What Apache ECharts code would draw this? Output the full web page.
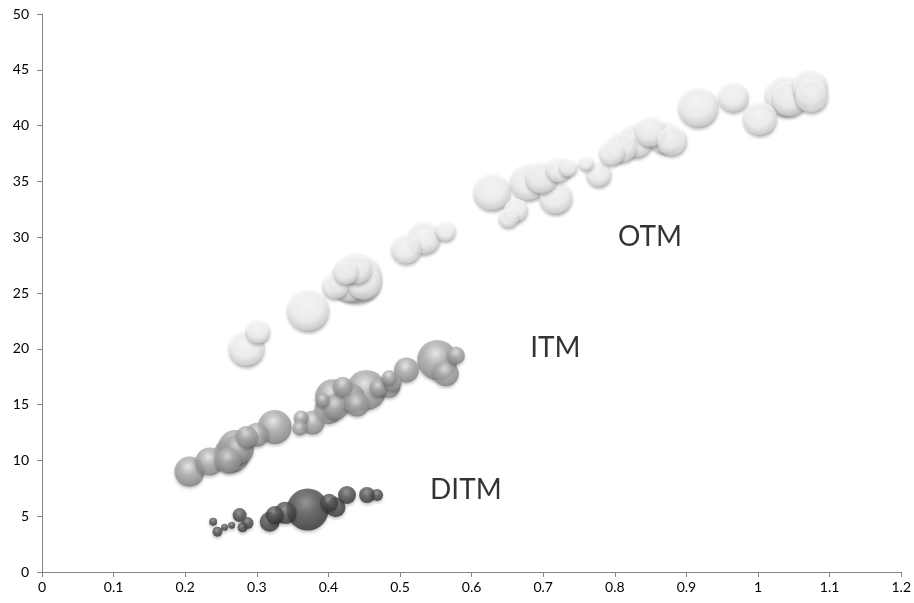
<!DOCTYPE html>
<html><head><meta charset="utf-8">
<script src="https://cdn.jsdelivr.net/npm/echarts@6/dist/echarts.min.js"></script>
<style>html,body{margin:0;padding:0;background:#fff}#c{width:914px;height:603px}</style>
</head><body><div id="c"></div>
<script>
// ---- data ----
const xTicks = [0,0.1,0.2,0.3,0.4,0.5,0.6,0.7,0.8,0.9,1,1.1,1.2];
const yTicks = [0,5,10,15,20,25,30,35,40,45,50];

const otmX = [0.286,0.302,0.372,0.44,0.43,0.425,0.41,0.45,0.44,0.509,0.534,0.564,0.629,0.652,0.662,0.68,0.718,0.698,0.722,0.735,0.76,0.778,0.796,0.81,0.83,0.85,0.87,0.88,0.917,0.966,1.003,1.038,1.045,1.073,1.075];
const otmY = [20.0,21.5,23.4,26.3,26.0,26.8,25.6,25.9,27.1,28.9,29.9,30.5,34.0,31.7,32.4,34.9,33.5,35.3,36.0,36.2,36.6,35.6,37.5,38.0,38.6,39.4,38.9,38.6,41.6,42.5,40.6,42.6,42.4,43.4,42.6];
const otmV = [36,24,42,50,40,24,26,34,30,30,33,20,37,20,24,37,33,32,25,18,15,25,25,30,34,30,32,30,40,30,34,40,36,35,33];

const itmX = [0.206,0.234,0.265,0.27,0.275,0.26,0.286,0.30,0.325,0.362,0.36,0.378,0.392,0.40,0.406,0.41,0.42,0.43,0.44,0.453,0.47,0.485,0.485,0.49,0.509,0.552,0.564,0.578];
const itmY = [9.0,9.9,10.5,11.2,11.0,10.0,12.1,12.3,13.0,13.8,12.9,13.4,15.4,14.5,15.7,14.8,16.6,15.6,15.0,16.3,16.5,17.4,16.6,17.0,18.1,19.0,17.8,19.4];
const itmV = [30,28,36,34,30,26,22,24,34,15,15,24,14,28,35,26,20,30,24,40,18,15,22,18,25,40,26,18];

const ditmX = [0.239,0.245,0.255,0.265,0.276,0.287,0.28,0.318,0.325,0.34,0.371,0.401,0.41,0.426,0.454,0.468];
const ditmY = [4.5,3.6,4.0,4.2,5.1,4.4,4.0,4.5,5.1,5.3,5.6,6.2,5.8,6.9,6.9,6.9];
const ditmV = [8,10,7,7,14,12,10,20,18,22,42,18,20,18,16,12];

const groupNames = ['OTM','ITM','DITM'];
const labelX = [0.849,0.717,0.592];
const labelY = [30.0,20.1,7.35];

// ---- chart ----
function pts(xs, ys, vs){
  const a = xs.map((x,i)=>[x, ys[i], vs[i]]);
  a.sort((p,q)=>q[2]-p[2]);
  return a;
}
function grad(stops){
  return {type:'radial', x:0.45, y:0.33, r:0.72,
    colorStops: stops.map(s=>({offset:s[0], color:s[1]}))};
}
function bubble(name, data, stops){
  return {name, type:'scatter', data, symbolSize: d => d[2],
    itemStyle:{color:grad(stops), shadowBlur:3, shadowColor:'rgba(0,0,0,0.3)', shadowOffsetY:2}};
}
const chart = echarts.init(document.getElementById('c'));
const font = 'Lato, "Open Sans", sans-serif';
chart.setOption({
  animation:false,
  backgroundColor:'#fff',
  grid:{left:42, right:11, top:14, bottom:31},
  xAxis:{type:'value', min:xTicks[0], max:xTicks[xTicks.length-1], interval:0.1,
    axisLine:{lineStyle:{color:'#868686'}}, axisTick:{show:true, length:5, lineStyle:{color:'#868686'}},
    splitLine:{show:false}, axisLabel:{color:'#000', fontSize:14, fontFamily:font, margin:8,
      formatter: v => String(Math.round(v*10)/10)}},
  yAxis:{type:'value', min:yTicks[0], max:yTicks[yTicks.length-1], interval:5,
    axisLine:{show:true, lineStyle:{color:'#868686'}}, axisTick:{show:true, length:5, lineStyle:{color:'#868686'}},
    splitLine:{show:false}, axisLabel:{color:'#000', fontSize:14, fontFamily:font, margin:13}},
  series:[
    bubble('DITM', pts(ditmX,ditmY,ditmV), [[0,'#8a8a8a'],[0.4,'#555555'],[0.85,'#383838'],[1,'#222222']]),
    bubble('ITM', pts(itmX,itmY,itmV), [[0,'#eeeeee'],[0.4,'#b0b0b0'],[0.85,'#8a8a8a'],[1,'#626262']]),
    bubble('OTM', pts(otmX,otmY,otmV), [[0,'#ffffff'],[0.55,'#f6f6f6'],[0.85,'#d2d2d2'],[1,'#8c8c8c']]),
    {type:'scatter', symbolSize:0, silent:true,
     data: groupNames.map((n,i)=>({value:[labelX[i], labelY[i]], name:n})),
     label:{show:true, position:'inside', formatter: p => p.name, color:'#000', fontSize:28, fontFamily:font}}
  ]
});
</script></body></html>
